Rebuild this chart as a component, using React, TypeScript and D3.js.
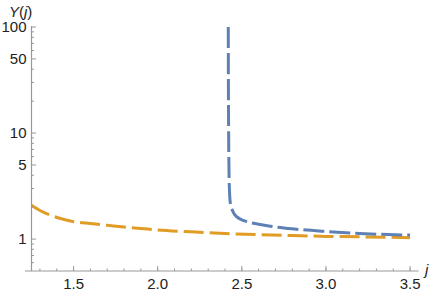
import React from 'react'
import * as d3 from 'd3'

const blueJ = [2.4195, 2.42, 2.421, 2.4226, 2.425, 2.4315, 2.445, 2.471, 2.5, 2.53, 2.6, 2.66, 2.8, 3.0, 3.2, 3.5]
const blueY = [100, 40, 15, 6, 3.4, 2.2, 1.85, 1.62, 1.52, 1.46, 1.38, 1.33, 1.25, 1.18, 1.13, 1.09]
const orangeJ = [1.25, 1.3, 1.38, 1.45, 1.5, 1.6, 1.7, 1.8, 1.9, 2.0, 2.2, 2.4, 2.6, 2.8, 3.0, 3.2, 3.5]
const orangeY = [2.08, 1.86, 1.64, 1.52, 1.46, 1.4, 1.35, 1.3, 1.26, 1.22, 1.17, 1.13, 1.1, 1.08, 1.06, 1.05, 1.03]

const xMajor = [1.5, 2.0, 2.5, 3.0, 3.5]
const xMinor = d3.range(13, 36).map(v => v / 10)
const yMajor = [1, 5, 10, 50, 100]
const yMinor = [0.6, 0.7, 0.8, 0.9, 2, 3, 4, 6, 7, 8, 9, 20, 30, 40, 60, 70, 80, 90]

const width = 436
const height = 294
const axisColor = '#999999'
const font = 'Liberation Sans, Arial, sans-serif'

const App = () => {
  const x = d3.scaleLinear().domain([1.25, 3.55]).range([31.5, 418.5])
  const y = d3.scaleLog().domain([0.5, 100]).range([271, 27])

  const line = d3
    .line<[number, number]>()
    .x(d => x(d[0]))
    .y(d => y(d[1]))
    .curve(d3.curveMonotoneX)

  const blue = blueJ.map((j, i) => [j, blueY[i]] as [number, number])
  const orange = orangeJ.map((j, i) => [j, orangeY[i]] as [number, number])
  const x0 = x(1.25)
  const y0 = y(0.5)

  return (
    <svg width={width} height={height} style={{position: 'absolute', left: 0, top: 0}}>
      <rect width={width} height={height} fill="white" />
      <path d={line(orange) || ''} fill="none" stroke="#E19C24" strokeWidth={3} strokeDasharray="20,6" />
      <path d={line(blue) || ''} fill="none" stroke="#5E81B5" strokeWidth={3} strokeDasharray="21,5" />

      {/* axes */}
      <line x1={25} x2={x(3.55)} y1={y0} y2={y0} stroke={axisColor} strokeWidth={1.2} />
      <line x1={x0} x2={x0} y1={y0} y2={y(100) - 1} stroke={axisColor} strokeWidth={1.2} />

      {xMinor.map(v => (
        <line key={'xm' + v} x1={x(v)} x2={x(v)} y1={y0} y2={y0 - 2.5} stroke={axisColor} />
      ))}
      {xMajor.map(v => (
        <g key={'x' + v}>
          <line x1={x(v)} x2={x(v)} y1={y0} y2={y0 - 5} stroke={axisColor} />
          <text x={x(v)} y={y0 + 18} textAnchor="middle" fontFamily={font} fontSize={15} fill="#222">
            {d3.format('.1f')(v)}
          </text>
        </g>
      ))}
      {yMinor.map(v => (
        <line key={'ym' + v} x1={x0} x2={x0 + 2.5} y1={y(v)} y2={y(v)} stroke={axisColor} />
      ))}
      {yMajor.map(v => (
        <g key={'y' + v}>
          <line x1={x0} x2={x0 + 4.5} y1={y(v)} y2={y(v)} stroke={axisColor} />
          <text x={x0 - 5} y={y(v)} dy="0.35em" textAnchor="end" fontFamily={font} fontSize={15} fill="#222">
            {v}
          </text>
        </g>
      ))}

      <text x={9} y={17} fontFamily={font} fontSize={15} fill="#222">
        <tspan fontStyle="italic">Y</tspan>(<tspan fontStyle="italic">j</tspan>)
      </text>
      <text x={425} y={275} fontFamily={font} fontSize={15} fontStyle="italic" fill="#222">
        j
      </text>
    </svg>
  )
}

export default App
